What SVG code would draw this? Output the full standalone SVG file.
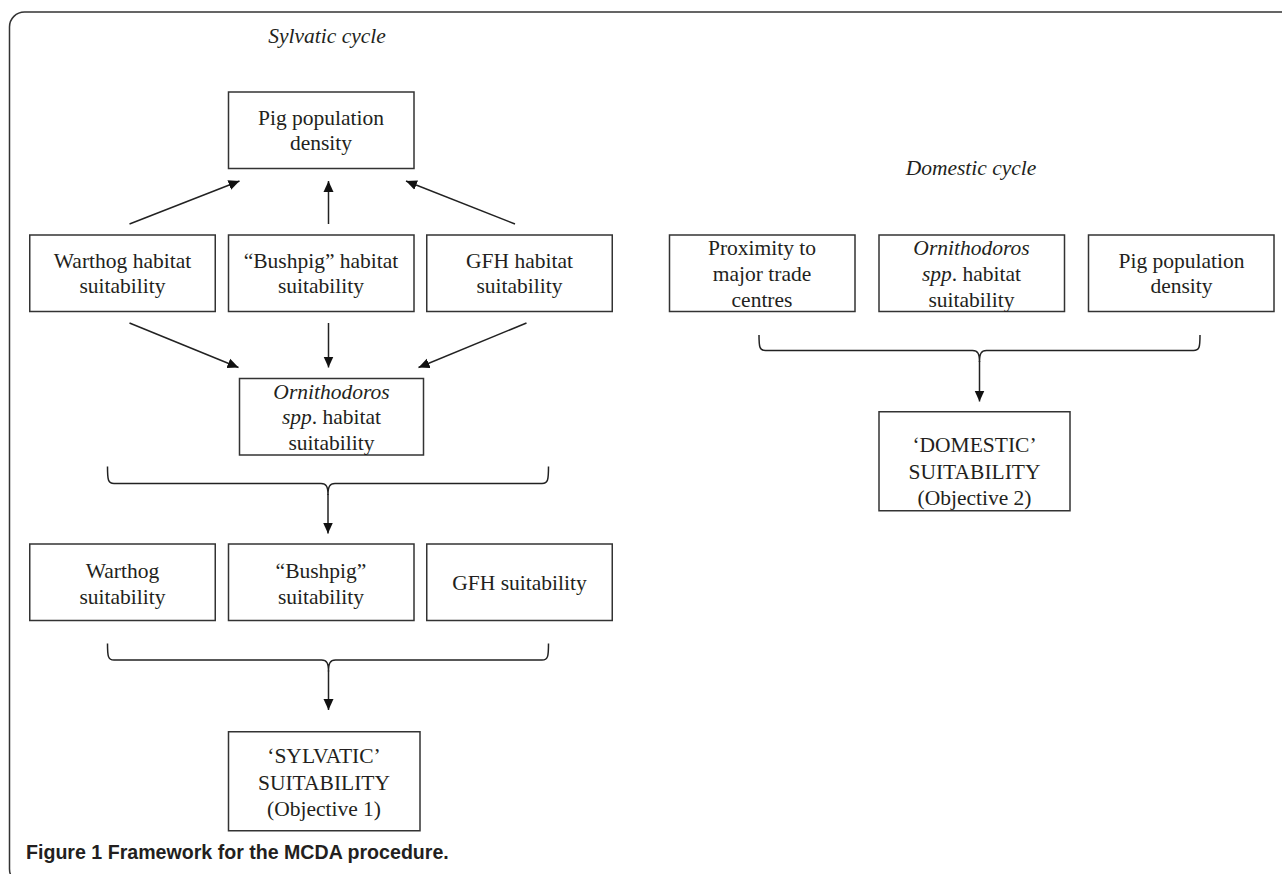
<svg xmlns="http://www.w3.org/2000/svg" width="1282" height="874" viewBox="0 0 1282 874">
<style>
.box{fill:#fff;stroke:#333;stroke-width:1.5}
.t{font-family:"Liberation Serif","Times New Roman",serif;font-size:21.5px;fill:#231f20;text-anchor:middle}
.it{font-style:italic}
.ln{fill:none;stroke:#222;stroke-width:1.5}
.cap{font-family:"Liberation Sans",Arial,sans-serif;font-weight:bold;font-size:19.6px;fill:#231f20}
</style>
<defs>
<marker id="ah" markerUnits="userSpaceOnUse" markerWidth="12" markerHeight="11" refX="11" refY="5" orient="auto" viewBox="0 0 12 10">
<path d="M0,0 L11,5 L0,10 Z" fill="#111"/>
</marker>
</defs>
<rect width="1282" height="874" fill="#fff"/>
<rect x="9.5" y="12" width="1300" height="872" rx="15" ry="15" fill="none" stroke="#333" stroke-width="1.5"/>

<text class="t it" x="327" y="43">Sylvatic cycle</text>
<text class="t it" x="971" y="175">Domestic cycle</text>

<g id="pig-sylvatic"><rect class="box" x="228.5" y="92" width="185.5" height="76.5"/>
<text class="t" x="321" y="125">Pig population</text><text class="t" x="321" y="150">density</text></g>

<g id="warthog-habitat"><rect class="box" x="29.75" y="235" width="185.5" height="76.5"/>
<text class="t" x="122.5" y="268">Warthog habitat</text><text class="t" x="122.5" y="293">suitability</text></g>
<g id="bushpig-habitat"><rect class="box" x="228.5" y="235" width="185.5" height="76.5"/>
<text class="t" x="321" y="268">“Bushpig” habitat</text><text class="t" x="321" y="293">suitability</text></g>
<g id="gfh-habitat"><rect class="box" x="426.75" y="235" width="185.5" height="76.5"/>
<text class="t" x="519.5" y="268">GFH habitat</text><text class="t" x="519.5" y="293">suitability</text></g>

<g id="ornithodoros-sylvatic"><rect class="box" x="239.5" y="378.5" width="184" height="76.5"/>
<text class="t it" x="331.5" y="398.5">Ornithodoros</text><text class="t" x="331.5" y="424"><tspan font-style="italic">spp</tspan>. habitat</text><text class="t" x="331.5" y="449.5">suitability</text></g>

<g id="warthog-suit"><rect class="box" x="29.75" y="544" width="185.5" height="76.5"/>
<text class="t" x="122.5" y="577.5">Warthog</text><text class="t" x="122.5" y="603.5">suitability</text></g>
<g id="bushpig-suit"><rect class="box" x="228.5" y="544" width="185.5" height="76.5"/>
<text class="t" x="321" y="577.5">“Bushpig”</text><text class="t" x="321" y="603.5">suitability</text></g>
<g id="gfh-suit"><rect class="box" x="426.75" y="544" width="185.5" height="76.5"/>
<text class="t" x="519.5" y="590">GFH suitability</text></g>

<g id="sylvatic-suit"><rect class="box" x="228.5" y="731.75" width="191.5" height="99"/>
<text class="t" x="324" y="763">‘SYLVATIC’</text><text class="t" x="324" y="789.5">SUITABILITY</text><text class="t" x="324" y="815.5">(Objective 1)</text></g>

<g id="proximity"><rect class="box" x="669.5" y="235" width="185.5" height="76.5"/>
<text class="t" x="762" y="255">Proximity to</text><text class="t" x="762" y="280.5">major trade</text><text class="t" x="762" y="306.5">centres</text></g>
<g id="ornithodoros-domestic"><rect class="box" x="879" y="235" width="185.5" height="76.5"/>
<text class="t it" x="971.5" y="255">Ornithodoros</text><text class="t" x="971.5" y="280.5"><tspan font-style="italic">spp</tspan>. habitat</text><text class="t" x="971.5" y="306.5">suitability</text></g>
<g id="pig-domestic"><rect class="box" x="1088.5" y="235" width="185.5" height="76.5"/>
<text class="t" x="1181.5" y="268">Pig population</text><text class="t" x="1181.5" y="293">density</text></g>

<g id="domestic-suit"><rect class="box" x="879" y="411.75" width="191" height="99"/>
<text class="t" x="974.5" y="451.5">‘DOMESTIC’</text><text class="t" x="974.5" y="478.5">SUITABILITY</text><text class="t" x="974.5" y="505">(Objective 2)</text></g>

<g id="connectors">
<line class="ln" x1="129.5" y1="224" x2="239.5" y2="181" marker-end="url(#ah)"/>
<line class="ln" x1="328.5" y1="224" x2="328.5" y2="181" marker-end="url(#ah)"/>
<line class="ln" x1="515" y1="224" x2="406" y2="181" marker-end="url(#ah)"/>
<line class="ln" x1="129.5" y1="323" x2="238.5" y2="367.5" marker-end="url(#ah)"/>
<line class="ln" x1="328.5" y1="323" x2="328.5" y2="367.5" marker-end="url(#ah)"/>
<line class="ln" x1="526.5" y1="323" x2="418.5" y2="367.5" marker-end="url(#ah)"/>

<path class="ln" d="M107.5,466.5 C107.5,480 108,483.5 114,483.5 L321,483.5 C326.5,483.5 328,487 328,495 C328,487 329.5,483.5 335,483.5 L542,483.5 C548,483.5 548.5,480 548.5,466.5"/>
<line class="ln" x1="328" y1="494" x2="328" y2="533.5" marker-end="url(#ah)"/>

<path class="ln" d="M107.5,643.5 C107.5,656.5 108,660 114,660 L321.5,660 C327,660 328.5,663.5 328.5,671.5 C328.5,663.5 330,660 335.5,660 L542,660 C548,660 548.5,656.5 548.5,643.5"/>
<line class="ln" x1="328.5" y1="670.5" x2="328.5" y2="710" marker-end="url(#ah)"/>

<path class="ln" d="M759,335 C759,347 759.5,350.5 765.5,350.5 L972.5,350.5 C978,350.5 979.5,354 979.5,362 C979.5,354 981,350.5 986.5,350.5 L1193.5,350.5 C1199.5,350.5 1200,347 1200,335"/>
<line class="ln" x1="979.5" y1="361" x2="979.5" y2="401.5" marker-end="url(#ah)"/>
</g>

<text class="cap" x="26" y="859">Figure 1 Framework for the MCDA procedure.</text>
</svg>
